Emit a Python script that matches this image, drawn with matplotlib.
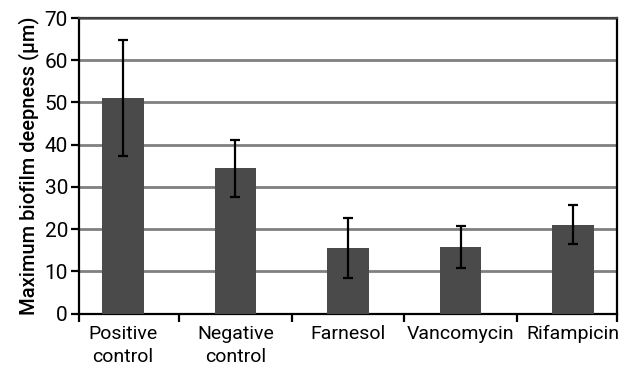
import matplotlib
matplotlib.use("Agg")
import matplotlib.pyplot as plt
import numpy as np

categories = ["Positive\ncontrol", "Negative\ncontrol", "Farnesol", "Vancomycin", "Rifampicin"]
depth_mean = [51.0, 34.4, 15.5, 15.8, 21.0]
depth_err = [13.7, 6.7, 7.2, 5.0, 4.6]
y_ticks = [0, 10, 20, 30, 40, 50, 60, 70]

plt.rcParams["font.family"] = ["Roboto", "DejaVu Sans"]

fig = plt.figure(figsize=(6.26, 3.76), dpi=100)
ax = fig.add_axes([79 / 626, 1 - 313.5 / 376, (617 - 79) / 626, (313.5 - 18) / 376])

x = np.arange(len(categories))
ax.bar(x, depth_mean, width=0.373, color="#4a4a4a", zorder=3)
ax.errorbar(x, depth_mean, yerr=depth_err, fmt="none", ecolor="black",
            elinewidth=1.6, capsize=3.5, capthick=1.6, zorder=4)

# plot area trims part of the outer category slots
edge = 0.391
ax.set_xlim(-edge, len(categories) - 1 + edge)
ax.set_ylim(0, 70)
ax.set_yticks(y_ticks)
ax.yaxis.grid(True, color="#808080", linewidth=2)
ax.set_axisbelow(True)

sep = list(np.arange(1, len(categories)) - 0.5)
ax.set_xticks([-edge] + sep + [len(categories) - 1 + edge])
ax.set_xticklabels([])
ax.set_xticks(x, minor=True)
ax.set_xticklabels(categories, minor=True, fontsize=14, linespacing=1.35)
ax.tick_params(axis="x", which="minor", length=0, pad=8)
ax.tick_params(axis="x", which="major", length=6, width=1.6, color="black")
ax.tick_params(axis="y", length=6, width=1.6, labelsize=15, pad=2)

for side in ["left", "bottom", "right"]:
    ax.spines[side].set_color("black")
    ax.spines[side].set_linewidth(1.6)
ax.spines["top"].set_color("#404040")
ax.spines["top"].set_linewidth(1.6)

ax.set_ylabel("Maximum biofilm deepness (μm)", fontsize=14.5, fontweight="medium", labelpad=4)

fig.savefig("out.png", dpi=100)
